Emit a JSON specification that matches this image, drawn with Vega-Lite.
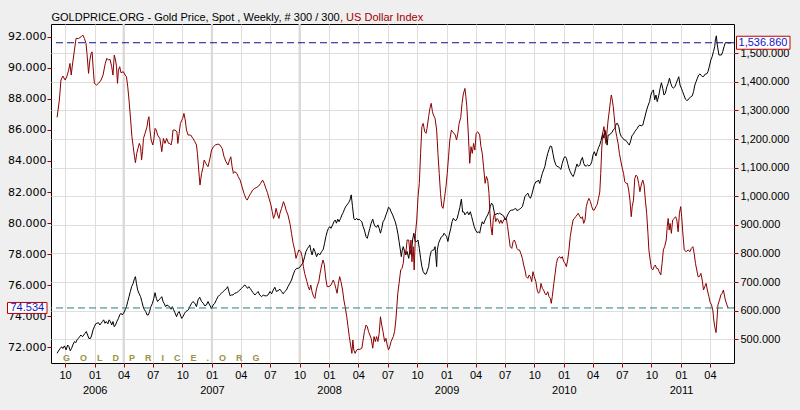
{
  "$schema": "https://vega.github.io/schema/vega-lite/v6.json",
  "width": 683,
  "height": 339,
  "autosize": "none",
  "padding": {"left": 51, "top": 24, "right": 66, "bottom": 47},
  "background": "#efefef",
  "config": {
    "view": {"fill": "#ffffff", "stroke": "#000000", "strokeWidth": 1},
    "axis": {
      "domain": false,
      "tickColor": "#a00000",
      "tickSize": 4,
      "labelColor": "#000000",
      "labelFont": "Liberation Sans",
      "labelFontSize": 11,
      "gridColor": "#e2dddd",
      "gridWidth": 1
    }
  },
  "datasets": {
    "gold": [
      {"date": "2005-09-06", "gold": 451}, {"date": "2005-09-10", "gold": 459}, {"date": "2005-09-16", "gold": 468}, {"date": "2005-09-20", "gold": 474},
      {"date": "2005-09-24", "gold": 468}, {"date": "2005-09-29", "gold": 477}, {"date": "2005-10-04", "gold": 463}, {"date": "2005-10-09", "gold": 480},
      {"date": "2005-10-13", "gold": 474}, {"date": "2005-10-17", "gold": 460}, {"date": "2005-10-21", "gold": 468}, {"date": "2005-10-25", "gold": 480},
      {"date": "2005-10-30", "gold": 492}, {"date": "2005-11-03", "gold": 488}, {"date": "2005-11-07", "gold": 498}, {"date": "2005-11-11", "gold": 503},
      {"date": "2005-11-15", "gold": 509}, {"date": "2005-11-19", "gold": 515}, {"date": "2005-11-24", "gold": 509}, {"date": "2005-11-28", "gold": 515},
      {"date": "2005-12-02", "gold": 521}, {"date": "2005-12-06", "gold": 527}, {"date": "2005-12-10", "gold": 515}, {"date": "2005-12-14", "gold": 503},
      {"date": "2005-12-19", "gold": 503}, {"date": "2005-12-23", "gold": 515}, {"date": "2005-12-27", "gold": 533}, {"date": "2005-12-31", "gold": 544},
      {"date": "2006-01-04", "gold": 554}, {"date": "2006-01-08", "gold": 556}, {"date": "2006-01-13", "gold": 558}, {"date": "2006-01-17", "gold": 550},
      {"date": "2006-01-21", "gold": 556}, {"date": "2006-01-25", "gold": 562}, {"date": "2006-01-29", "gold": 568}, {"date": "2006-02-02", "gold": 556},
      {"date": "2006-02-06", "gold": 562}, {"date": "2006-02-11", "gold": 554}, {"date": "2006-02-15", "gold": 568}, {"date": "2006-02-19", "gold": 562},
      {"date": "2006-02-23", "gold": 550}, {"date": "2006-02-27", "gold": 562}, {"date": "2006-03-03", "gold": 544}, {"date": "2006-03-07", "gold": 550},
      {"date": "2006-03-11", "gold": 562}, {"date": "2006-03-16", "gold": 573}, {"date": "2006-03-20", "gold": 585}, {"date": "2006-03-24", "gold": 591},
      {"date": "2006-03-28", "gold": 585}, {"date": "2006-04-01", "gold": 591}, {"date": "2006-04-06", "gold": 603}, {"date": "2006-04-10", "gold": 614},
      {"date": "2006-04-14", "gold": 632}, {"date": "2006-04-18", "gold": 649}, {"date": "2006-04-22", "gold": 667}, {"date": "2006-04-26", "gold": 684},
      {"date": "2006-05-01", "gold": 696}, {"date": "2006-05-05", "gold": 713}, {"date": "2006-05-08", "gold": 719}, {"date": "2006-05-11", "gold": 696},
      {"date": "2006-05-15", "gold": 672}, {"date": "2006-05-19", "gold": 661}, {"date": "2006-05-24", "gold": 649}, {"date": "2006-05-28", "gold": 632},
      {"date": "2006-06-01", "gold": 614}, {"date": "2006-06-05", "gold": 603}, {"date": "2006-06-09", "gold": 597}, {"date": "2006-06-13", "gold": 585},
      {"date": "2006-06-17", "gold": 585}, {"date": "2006-06-21", "gold": 597}, {"date": "2006-06-25", "gold": 614}, {"date": "2006-06-30", "gold": 626},
      {"date": "2006-07-04", "gold": 643}, {"date": "2006-07-08", "gold": 663}, {"date": "2006-07-12", "gold": 643}, {"date": "2006-07-16", "gold": 632},
      {"date": "2006-07-20", "gold": 638}, {"date": "2006-07-25", "gold": 643}, {"date": "2006-07-29", "gold": 649}, {"date": "2006-08-02", "gold": 632},
      {"date": "2006-08-06", "gold": 624}, {"date": "2006-08-10", "gold": 614}, {"date": "2006-08-14", "gold": 620}, {"date": "2006-08-19", "gold": 617},
      {"date": "2006-08-23", "gold": 612}, {"date": "2006-08-27", "gold": 605}, {"date": "2006-08-31", "gold": 614}, {"date": "2006-09-04", "gold": 603},
      {"date": "2006-09-08", "gold": 593}, {"date": "2006-09-13", "gold": 579}, {"date": "2006-09-17", "gold": 591}, {"date": "2006-09-21", "gold": 597},
      {"date": "2006-09-25", "gold": 585}, {"date": "2006-09-29", "gold": 573}, {"date": "2006-10-03", "gold": 579}, {"date": "2006-10-08", "gold": 591},
      {"date": "2006-10-12", "gold": 597}, {"date": "2006-10-16", "gold": 600}, {"date": "2006-10-20", "gold": 603}, {"date": "2006-10-24", "gold": 614},
      {"date": "2006-10-30", "gold": 626}, {"date": "2006-11-03", "gold": 632}, {"date": "2006-11-09", "gold": 626}, {"date": "2006-11-14", "gold": 614},
      {"date": "2006-11-19", "gold": 638}, {"date": "2006-11-24", "gold": 647}, {"date": "2006-11-30", "gold": 632}, {"date": "2006-12-05", "gold": 626},
      {"date": "2006-12-10", "gold": 617}, {"date": "2006-12-15", "gold": 620}, {"date": "2006-12-20", "gold": 632}, {"date": "2006-12-25", "gold": 620},
      {"date": "2006-12-31", "gold": 608}, {"date": "2007-01-05", "gold": 620}, {"date": "2007-01-10", "gold": 626}, {"date": "2007-01-15", "gold": 638},
      {"date": "2007-01-20", "gold": 649}, {"date": "2007-01-25", "gold": 655}, {"date": "2007-01-31", "gold": 661}, {"date": "2007-02-05", "gold": 667},
      {"date": "2007-02-10", "gold": 672}, {"date": "2007-02-16", "gold": 678}, {"date": "2007-02-19", "gold": 684}, {"date": "2007-02-23", "gold": 667},
      {"date": "2007-02-27", "gold": 652}, {"date": "2007-03-03", "gold": 655}, {"date": "2007-03-08", "gold": 655}, {"date": "2007-03-13", "gold": 661},
      {"date": "2007-03-19", "gold": 663}, {"date": "2007-03-24", "gold": 667}, {"date": "2007-03-29", "gold": 672}, {"date": "2007-04-03", "gold": 678},
      {"date": "2007-04-08", "gold": 684}, {"date": "2007-04-14", "gold": 690}, {"date": "2007-04-18", "gold": 684}, {"date": "2007-04-22", "gold": 678},
      {"date": "2007-04-26", "gold": 684}, {"date": "2007-04-30", "gold": 678}, {"date": "2007-05-04", "gold": 672}, {"date": "2007-05-09", "gold": 663},
      {"date": "2007-05-15", "gold": 655}, {"date": "2007-05-20", "gold": 661}, {"date": "2007-05-25", "gold": 667}, {"date": "2007-05-30", "gold": 655},
      {"date": "2007-06-05", "gold": 649}, {"date": "2007-06-10", "gold": 655}, {"date": "2007-06-15", "gold": 652}, {"date": "2007-06-20", "gold": 652},
      {"date": "2007-06-25", "gold": 655}, {"date": "2007-07-01", "gold": 667}, {"date": "2007-07-06", "gold": 659}, {"date": "2007-07-11", "gold": 672},
      {"date": "2007-07-16", "gold": 682}, {"date": "2007-07-21", "gold": 667}, {"date": "2007-07-26", "gold": 670}, {"date": "2007-08-01", "gold": 675},
      {"date": "2007-08-06", "gold": 667}, {"date": "2007-08-11", "gold": 659}, {"date": "2007-08-16", "gold": 667}, {"date": "2007-08-21", "gold": 672},
      {"date": "2007-08-26", "gold": 684}, {"date": "2007-09-01", "gold": 696}, {"date": "2007-09-06", "gold": 707}, {"date": "2007-09-11", "gold": 725},
      {"date": "2007-09-16", "gold": 740}, {"date": "2007-09-22", "gold": 748}, {"date": "2007-09-27", "gold": 748}, {"date": "2007-10-02", "gold": 752},
      {"date": "2007-10-07", "gold": 760}, {"date": "2007-10-12", "gold": 768}, {"date": "2007-10-17", "gold": 789}, {"date": "2007-10-21", "gold": 807},
      {"date": "2007-10-26", "gold": 818}, {"date": "2007-10-30", "gold": 824}, {"date": "2007-11-02", "gold": 830}, {"date": "2007-11-05", "gold": 812},
      {"date": "2007-11-09", "gold": 795}, {"date": "2007-11-14", "gold": 818}, {"date": "2007-11-18", "gold": 807}, {"date": "2007-11-23", "gold": 789},
      {"date": "2007-11-28", "gold": 801}, {"date": "2007-12-03", "gold": 795}, {"date": "2007-12-09", "gold": 807}, {"date": "2007-12-14", "gold": 815},
      {"date": "2007-12-18", "gold": 836}, {"date": "2007-12-22", "gold": 859}, {"date": "2007-12-26", "gold": 876}, {"date": "2007-12-30", "gold": 888},
      {"date": "2008-01-03", "gold": 894}, {"date": "2008-01-07", "gold": 888}, {"date": "2008-01-12", "gold": 900}, {"date": "2008-01-16", "gold": 911},
      {"date": "2008-01-20", "gold": 917}, {"date": "2008-01-24", "gold": 906}, {"date": "2008-01-28", "gold": 920}, {"date": "2008-02-01", "gold": 911},
      {"date": "2008-02-06", "gold": 923}, {"date": "2008-02-10", "gold": 935}, {"date": "2008-02-14", "gold": 943}, {"date": "2008-02-18", "gold": 955},
      {"date": "2008-02-22", "gold": 964}, {"date": "2008-02-26", "gold": 970}, {"date": "2008-03-02", "gold": 978}, {"date": "2008-03-06", "gold": 987},
      {"date": "2008-03-10", "gold": 1005}, {"date": "2008-03-14", "gold": 964}, {"date": "2008-03-18", "gold": 923}, {"date": "2008-03-22", "gold": 917},
      {"date": "2008-03-27", "gold": 923}, {"date": "2008-03-31", "gold": 917}, {"date": "2008-04-04", "gold": 920}, {"date": "2008-04-08", "gold": 915},
      {"date": "2008-04-12", "gold": 911}, {"date": "2008-04-16", "gold": 894}, {"date": "2008-04-20", "gold": 882}, {"date": "2008-04-25", "gold": 859},
      {"date": "2008-04-29", "gold": 853}, {"date": "2008-05-03", "gold": 871}, {"date": "2008-05-07", "gold": 888}, {"date": "2008-05-11", "gold": 906},
      {"date": "2008-05-16", "gold": 920}, {"date": "2008-05-20", "gold": 903}, {"date": "2008-05-24", "gold": 894}, {"date": "2008-05-28", "gold": 892},
      {"date": "2008-06-01", "gold": 900}, {"date": "2008-06-05", "gold": 888}, {"date": "2008-06-09", "gold": 871}, {"date": "2008-06-13", "gold": 888},
      {"date": "2008-06-17", "gold": 911}, {"date": "2008-06-22", "gold": 920}, {"date": "2008-06-26", "gold": 935}, {"date": "2008-06-30", "gold": 946},
      {"date": "2008-07-04", "gold": 962}, {"date": "2008-07-08", "gold": 958}, {"date": "2008-07-12", "gold": 946}, {"date": "2008-07-17", "gold": 935},
      {"date": "2008-07-21", "gold": 923}, {"date": "2008-07-25", "gold": 911}, {"date": "2008-07-29", "gold": 894}, {"date": "2008-08-02", "gold": 871},
      {"date": "2008-08-06", "gold": 842}, {"date": "2008-08-10", "gold": 812}, {"date": "2008-08-13", "gold": 789}, {"date": "2008-08-16", "gold": 812},
      {"date": "2008-08-19", "gold": 824}, {"date": "2008-08-23", "gold": 807}, {"date": "2008-08-27", "gold": 795}, {"date": "2008-08-31", "gold": 807},
      {"date": "2008-09-05", "gold": 783}, {"date": "2008-09-09", "gold": 812}, {"date": "2008-09-13", "gold": 795}, {"date": "2008-09-17", "gold": 847},
      {"date": "2008-09-21", "gold": 871}, {"date": "2008-09-25", "gold": 842}, {"date": "2008-09-30", "gold": 842}, {"date": "2008-10-04", "gold": 847},
      {"date": "2008-10-08", "gold": 818}, {"date": "2008-10-12", "gold": 783}, {"date": "2008-10-16", "gold": 754}, {"date": "2008-10-20", "gold": 737},
      {"date": "2008-10-25", "gold": 728}, {"date": "2008-10-29", "gold": 728}, {"date": "2008-11-01", "gold": 737}, {"date": "2008-11-06", "gold": 754},
      {"date": "2008-11-10", "gold": 789}, {"date": "2008-11-14", "gold": 807}, {"date": "2008-11-18", "gold": 812}, {"date": "2008-11-22", "gold": 812},
      {"date": "2008-11-26", "gold": 824}, {"date": "2008-12-01", "gold": 754}, {"date": "2008-12-03", "gold": 812}, {"date": "2008-12-07", "gold": 836},
      {"date": "2008-12-11", "gold": 847}, {"date": "2008-12-15", "gold": 857}, {"date": "2008-12-20", "gold": 861}, {"date": "2008-12-24", "gold": 871},
      {"date": "2008-12-28", "gold": 865}, {"date": "2009-01-01", "gold": 859}, {"date": "2009-01-05", "gold": 842}, {"date": "2009-01-09", "gold": 865},
      {"date": "2009-01-14", "gold": 888}, {"date": "2009-01-18", "gold": 911}, {"date": "2009-01-22", "gold": 923}, {"date": "2009-01-26", "gold": 917},
      {"date": "2009-01-30", "gold": 915}, {"date": "2009-02-03", "gold": 923}, {"date": "2009-02-07", "gold": 941}, {"date": "2009-02-11", "gold": 960},
      {"date": "2009-02-16", "gold": 990}, {"date": "2009-02-20", "gold": 945}, {"date": "2009-02-24", "gold": 945}, {"date": "2009-02-27", "gold": 935},
      {"date": "2009-03-03", "gold": 941}, {"date": "2009-03-07", "gold": 946}, {"date": "2009-03-11", "gold": 935}, {"date": "2009-03-16", "gold": 946},
      {"date": "2009-03-20", "gold": 929}, {"date": "2009-03-24", "gold": 911}, {"date": "2009-03-28", "gold": 894}, {"date": "2009-04-01", "gold": 882},
      {"date": "2009-04-06", "gold": 873}, {"date": "2009-04-10", "gold": 876}, {"date": "2009-04-14", "gold": 871}, {"date": "2009-04-18", "gold": 894},
      {"date": "2009-04-22", "gold": 911}, {"date": "2009-04-26", "gold": 903}, {"date": "2009-05-01", "gold": 917}, {"date": "2009-05-05", "gold": 927},
      {"date": "2009-05-09", "gold": 935}, {"date": "2009-05-13", "gold": 946}, {"date": "2009-05-17", "gold": 964}, {"date": "2009-05-21", "gold": 976},
      {"date": "2009-05-25", "gold": 970}, {"date": "2009-05-30", "gold": 941}, {"date": "2009-06-03", "gold": 935}, {"date": "2009-06-07", "gold": 941},
      {"date": "2009-06-11", "gold": 938}, {"date": "2009-06-15", "gold": 941}, {"date": "2009-06-19", "gold": 938}, {"date": "2009-06-23", "gold": 935},
      {"date": "2009-06-28", "gold": 931}, {"date": "2009-07-02", "gold": 917}, {"date": "2009-07-06", "gold": 923}, {"date": "2009-07-10", "gold": 935},
      {"date": "2009-07-14", "gold": 943}, {"date": "2009-07-18", "gold": 950}, {"date": "2009-07-23", "gold": 952}, {"date": "2009-07-27", "gold": 952},
      {"date": "2009-07-31", "gold": 955}, {"date": "2009-08-04", "gold": 958}, {"date": "2009-08-08", "gold": 950}, {"date": "2009-08-12", "gold": 952},
      {"date": "2009-08-16", "gold": 955}, {"date": "2009-08-20", "gold": 958}, {"date": "2009-08-25", "gold": 964}, {"date": "2009-08-29", "gold": 981},
      {"date": "2009-09-02", "gold": 999}, {"date": "2009-09-06", "gold": 1005}, {"date": "2009-09-11", "gold": 1011}, {"date": "2009-09-15", "gold": 999},
      {"date": "2009-09-19", "gold": 993}, {"date": "2009-09-23", "gold": 1005}, {"date": "2009-09-27", "gold": 1022}, {"date": "2009-10-01", "gold": 1040},
      {"date": "2009-10-06", "gold": 1051}, {"date": "2009-10-10", "gold": 1051}, {"date": "2009-10-14", "gold": 1057}, {"date": "2009-10-18", "gold": 1045},
      {"date": "2009-10-22", "gold": 1063}, {"date": "2009-10-26", "gold": 1080}, {"date": "2009-10-30", "gold": 1092}, {"date": "2009-11-03", "gold": 1104},
      {"date": "2009-11-07", "gold": 1127}, {"date": "2009-11-12", "gold": 1150}, {"date": "2009-11-16", "gold": 1164}, {"date": "2009-11-20", "gold": 1176},
      {"date": "2009-11-24", "gold": 1174}, {"date": "2009-11-28", "gold": 1150}, {"date": "2009-12-02", "gold": 1127}, {"date": "2009-12-07", "gold": 1110},
      {"date": "2009-12-11", "gold": 1104}, {"date": "2009-12-15", "gold": 1104}, {"date": "2009-12-19", "gold": 1098}, {"date": "2009-12-23", "gold": 1094},
      {"date": "2009-12-27", "gold": 1115}, {"date": "2010-01-01", "gold": 1133}, {"date": "2010-01-05", "gold": 1139}, {"date": "2010-01-09", "gold": 1133},
      {"date": "2010-01-13", "gold": 1115}, {"date": "2010-01-17", "gold": 1098}, {"date": "2010-01-21", "gold": 1086}, {"date": "2010-01-26", "gold": 1075},
      {"date": "2010-01-30", "gold": 1069}, {"date": "2010-02-03", "gold": 1080}, {"date": "2010-02-07", "gold": 1098}, {"date": "2010-02-11", "gold": 1113},
      {"date": "2010-02-15", "gold": 1104}, {"date": "2010-02-20", "gold": 1110}, {"date": "2010-02-24", "gold": 1127}, {"date": "2010-02-28", "gold": 1136},
      {"date": "2010-03-04", "gold": 1115}, {"date": "2010-03-08", "gold": 1106}, {"date": "2010-03-12", "gold": 1106}, {"date": "2010-03-16", "gold": 1110},
      {"date": "2010-03-20", "gold": 1106}, {"date": "2010-03-25", "gold": 1110}, {"date": "2010-03-29", "gold": 1121}, {"date": "2010-04-02", "gold": 1145},
      {"date": "2010-04-06", "gold": 1156}, {"date": "2010-04-11", "gold": 1141}, {"date": "2010-04-15", "gold": 1156}, {"date": "2010-04-19", "gold": 1170},
      {"date": "2010-04-23", "gold": 1180}, {"date": "2010-04-27", "gold": 1195}, {"date": "2010-05-02", "gold": 1220}, {"date": "2010-05-06", "gold": 1203},
      {"date": "2010-05-09", "gold": 1232}, {"date": "2010-05-12", "gold": 1214}, {"date": "2010-05-16", "gold": 1179}, {"date": "2010-05-19", "gold": 1214},
      {"date": "2010-05-23", "gold": 1214}, {"date": "2010-05-27", "gold": 1220}, {"date": "2010-05-31", "gold": 1223}, {"date": "2010-06-04", "gold": 1232},
      {"date": "2010-06-09", "gold": 1238}, {"date": "2010-06-13", "gold": 1253}, {"date": "2010-06-17", "gold": 1255}, {"date": "2010-06-21", "gold": 1244},
      {"date": "2010-06-25", "gold": 1220}, {"date": "2010-06-29", "gold": 1209}, {"date": "2010-07-04", "gold": 1203}, {"date": "2010-07-08", "gold": 1197},
      {"date": "2010-07-12", "gold": 1197}, {"date": "2010-07-16", "gold": 1191}, {"date": "2010-07-20", "gold": 1185}, {"date": "2010-07-24", "gold": 1179},
      {"date": "2010-07-29", "gold": 1197}, {"date": "2010-08-01", "gold": 1211}, {"date": "2010-08-06", "gold": 1218}, {"date": "2010-08-10", "gold": 1226},
      {"date": "2010-08-14", "gold": 1232}, {"date": "2010-08-18", "gold": 1238}, {"date": "2010-08-22", "gold": 1246}, {"date": "2010-08-26", "gold": 1249},
      {"date": "2010-08-30", "gold": 1246}, {"date": "2010-09-04", "gold": 1249}, {"date": "2010-09-08", "gold": 1267}, {"date": "2010-09-12", "gold": 1284},
      {"date": "2010-09-16", "gold": 1302}, {"date": "2010-09-20", "gold": 1316}, {"date": "2010-09-25", "gold": 1331}, {"date": "2010-09-29", "gold": 1354},
      {"date": "2010-10-03", "gold": 1366}, {"date": "2010-10-07", "gold": 1372}, {"date": "2010-10-11", "gold": 1337}, {"date": "2010-10-15", "gold": 1354},
      {"date": "2010-10-19", "gold": 1331}, {"date": "2010-10-24", "gold": 1354}, {"date": "2010-10-28", "gold": 1378}, {"date": "2010-11-01", "gold": 1397},
      {"date": "2010-11-05", "gold": 1378}, {"date": "2010-11-09", "gold": 1354}, {"date": "2010-11-13", "gold": 1360}, {"date": "2010-11-18", "gold": 1383},
      {"date": "2010-11-22", "gold": 1395}, {"date": "2010-11-26", "gold": 1413}, {"date": "2010-11-30", "gold": 1395}, {"date": "2010-12-04", "gold": 1383},
      {"date": "2010-12-08", "gold": 1378}, {"date": "2010-12-13", "gold": 1383}, {"date": "2010-12-17", "gold": 1395}, {"date": "2010-12-21", "gold": 1407},
      {"date": "2010-12-25", "gold": 1418}, {"date": "2010-12-29", "gold": 1389}, {"date": "2011-01-02", "gold": 1378}, {"date": "2011-01-06", "gold": 1366},
      {"date": "2011-01-11", "gold": 1351}, {"date": "2011-01-15", "gold": 1339}, {"date": "2011-01-19", "gold": 1335}, {"date": "2011-01-23", "gold": 1337},
      {"date": "2011-01-27", "gold": 1343}, {"date": "2011-01-31", "gold": 1348}, {"date": "2011-02-05", "gold": 1351}, {"date": "2011-02-09", "gold": 1366},
      {"date": "2011-02-13", "gold": 1389}, {"date": "2011-02-17", "gold": 1401}, {"date": "2011-02-21", "gold": 1413}, {"date": "2011-02-25", "gold": 1424},
      {"date": "2011-03-01", "gold": 1428}, {"date": "2011-03-06", "gold": 1421}, {"date": "2011-03-10", "gold": 1418}, {"date": "2011-03-14", "gold": 1421},
      {"date": "2011-03-18", "gold": 1428}, {"date": "2011-03-22", "gold": 1428}, {"date": "2011-03-26", "gold": 1436}, {"date": "2011-03-30", "gold": 1453},
      {"date": "2011-04-04", "gold": 1477}, {"date": "2011-04-08", "gold": 1488}, {"date": "2011-04-12", "gold": 1506}, {"date": "2011-04-16", "gold": 1523},
      {"date": "2011-04-18", "gold": 1547}, {"date": "2011-04-21", "gold": 1561}, {"date": "2011-04-24", "gold": 1529}, {"date": "2011-04-29", "gold": 1494},
      {"date": "2011-05-03", "gold": 1494}, {"date": "2011-05-07", "gold": 1494}, {"date": "2011-05-11", "gold": 1506}, {"date": "2011-05-15", "gold": 1523},
      {"date": "2011-05-19", "gold": 1537}, {"date": "2011-05-25", "gold": 1537}, {"date": "2011-05-31", "gold": 1536}, {"date": "2011-06-06", "gold": 1536.86}
    ],
    "usd": [
      {"date": "2005-09-06", "usd": 86.81}, {"date": "2005-09-13", "usd": 87.92}, {"date": "2005-09-18", "usd": 89.21}, {"date": "2005-09-24", "usd": 89.47},
      {"date": "2005-10-01", "usd": 89.21}, {"date": "2005-10-06", "usd": 89.42}, {"date": "2005-10-12", "usd": 89.85}, {"date": "2005-10-16", "usd": 90.28},
      {"date": "2005-10-20", "usd": 89.53}, {"date": "2005-10-23", "usd": 90.07}, {"date": "2005-10-30", "usd": 91.14}, {"date": "2005-11-04", "usd": 91.89},
      {"date": "2005-11-12", "usd": 91.89}, {"date": "2005-11-20", "usd": 92.0}, {"date": "2005-11-25", "usd": 92.11}, {"date": "2005-11-30", "usd": 91.89},
      {"date": "2005-12-05", "usd": 91.57}, {"date": "2005-12-08", "usd": 90.93}, {"date": "2005-12-13", "usd": 89.64}, {"date": "2005-12-17", "usd": 90.5},
      {"date": "2005-12-21", "usd": 90.93}, {"date": "2005-12-24", "usd": 91.03}, {"date": "2005-12-27", "usd": 90.07}, {"date": "2005-12-31", "usd": 89.0},
      {"date": "2006-01-07", "usd": 88.89}, {"date": "2006-01-13", "usd": 89.0}, {"date": "2006-01-21", "usd": 89.21}, {"date": "2006-01-27", "usd": 89.53},
      {"date": "2006-02-03", "usd": 90.28}, {"date": "2006-02-08", "usd": 90.61}, {"date": "2006-02-13", "usd": 90.5}, {"date": "2006-02-18", "usd": 90.54},
      {"date": "2006-02-23", "usd": 90.07}, {"date": "2006-02-27", "usd": 89.53}, {"date": "2006-03-03", "usd": 90.82}, {"date": "2006-03-07", "usd": 90.5},
      {"date": "2006-03-10", "usd": 90.07}, {"date": "2006-03-13", "usd": 89.0}, {"date": "2006-03-16", "usd": 89.85}, {"date": "2006-03-20", "usd": 90.07},
      {"date": "2006-03-24", "usd": 89.68}, {"date": "2006-03-31", "usd": 89.75}, {"date": "2006-04-06", "usd": 89.53}, {"date": "2006-04-10", "usd": 89.42},
      {"date": "2006-04-14", "usd": 88.78}, {"date": "2006-04-18", "usd": 87.92}, {"date": "2006-04-23", "usd": 86.64}, {"date": "2006-04-27", "usd": 85.56},
      {"date": "2006-05-01", "usd": 84.92}, {"date": "2006-05-05", "usd": 84.27}, {"date": "2006-05-08", "usd": 83.89}, {"date": "2006-05-12", "usd": 84.49},
      {"date": "2006-05-16", "usd": 84.81}, {"date": "2006-05-20", "usd": 85.13}, {"date": "2006-05-24", "usd": 84.92}, {"date": "2006-05-27", "usd": 84.06},
      {"date": "2006-05-30", "usd": 84.6}, {"date": "2006-06-02", "usd": 85.45}, {"date": "2006-06-07", "usd": 85.78}, {"date": "2006-06-13", "usd": 86.21},
      {"date": "2006-06-16", "usd": 86.64}, {"date": "2006-06-19", "usd": 86.85}, {"date": "2006-06-22", "usd": 85.99}, {"date": "2006-06-26", "usd": 85.35},
      {"date": "2006-07-01", "usd": 85.03}, {"date": "2006-07-04", "usd": 85.35}, {"date": "2006-07-08", "usd": 86.1}, {"date": "2006-07-12", "usd": 85.99},
      {"date": "2006-07-16", "usd": 85.67}, {"date": "2006-07-23", "usd": 85.45}, {"date": "2006-07-29", "usd": 84.6}, {"date": "2006-08-03", "usd": 85.45},
      {"date": "2006-08-08", "usd": 85.13}, {"date": "2006-08-13", "usd": 85.45}, {"date": "2006-08-19", "usd": 85.13}, {"date": "2006-08-23", "usd": 85.13},
      {"date": "2006-08-27", "usd": 85.03}, {"date": "2006-08-30", "usd": 85.35}, {"date": "2006-09-02", "usd": 85.99}, {"date": "2006-09-08", "usd": 85.99},
      {"date": "2006-09-14", "usd": 85.88}, {"date": "2006-09-17", "usd": 85.13}, {"date": "2006-09-21", "usd": 85.78}, {"date": "2006-09-25", "usd": 86.42},
      {"date": "2006-10-02", "usd": 86.74}, {"date": "2006-10-06", "usd": 87.06}, {"date": "2006-10-10", "usd": 86.64}, {"date": "2006-10-14", "usd": 85.99},
      {"date": "2006-10-19", "usd": 85.67}, {"date": "2006-10-27", "usd": 85.67}, {"date": "2006-11-03", "usd": 85.45}, {"date": "2006-11-09", "usd": 85.24},
      {"date": "2006-11-14", "usd": 85.03}, {"date": "2006-11-17", "usd": 84.49}, {"date": "2006-11-21", "usd": 83.42}, {"date": "2006-11-25", "usd": 82.45},
      {"date": "2006-11-30", "usd": 83.2}, {"date": "2006-12-05", "usd": 83.63}, {"date": "2006-12-08", "usd": 84.06}, {"date": "2006-12-13", "usd": 83.85},
      {"date": "2006-12-20", "usd": 83.63}, {"date": "2006-12-26", "usd": 84.17}, {"date": "2006-12-31", "usd": 84.7}, {"date": "2007-01-06", "usd": 84.92},
      {"date": "2007-01-12", "usd": 85.03}, {"date": "2007-01-20", "usd": 85.09}, {"date": "2007-01-26", "usd": 85.03}, {"date": "2007-02-02", "usd": 84.81},
      {"date": "2007-02-08", "usd": 84.27}, {"date": "2007-02-14", "usd": 83.95}, {"date": "2007-02-20", "usd": 83.74}, {"date": "2007-02-25", "usd": 84.06},
      {"date": "2007-03-01", "usd": 84.27}, {"date": "2007-03-05", "usd": 83.63}, {"date": "2007-03-09", "usd": 83.2}, {"date": "2007-03-13", "usd": 83.31},
      {"date": "2007-03-20", "usd": 83.2}, {"date": "2007-03-24", "usd": 82.99}, {"date": "2007-03-30", "usd": 82.77}, {"date": "2007-04-05", "usd": 82.34},
      {"date": "2007-04-11", "usd": 81.91}, {"date": "2007-04-17", "usd": 81.59}, {"date": "2007-04-21", "usd": 81.48}, {"date": "2007-04-26", "usd": 81.7},
      {"date": "2007-05-02", "usd": 81.91}, {"date": "2007-05-08", "usd": 82.13}, {"date": "2007-05-15", "usd": 82.24}, {"date": "2007-05-21", "usd": 82.3},
      {"date": "2007-05-27", "usd": 82.39}, {"date": "2007-06-02", "usd": 82.56}, {"date": "2007-06-08", "usd": 82.77}, {"date": "2007-06-13", "usd": 82.56},
      {"date": "2007-06-18", "usd": 82.24}, {"date": "2007-06-23", "usd": 81.96}, {"date": "2007-06-28", "usd": 81.59}, {"date": "2007-07-04", "usd": 81.16},
      {"date": "2007-07-08", "usd": 80.73}, {"date": "2007-07-12", "usd": 80.3}, {"date": "2007-07-16", "usd": 80.52}, {"date": "2007-07-20", "usd": 80.95},
      {"date": "2007-07-25", "usd": 80.52}, {"date": "2007-07-29", "usd": 80.3}, {"date": "2007-08-01", "usd": 80.63}, {"date": "2007-08-06", "usd": 80.95},
      {"date": "2007-08-12", "usd": 81.38}, {"date": "2007-08-16", "usd": 81.16}, {"date": "2007-08-20", "usd": 80.84}, {"date": "2007-08-26", "usd": 80.52},
      {"date": "2007-09-02", "usd": 79.88}, {"date": "2007-09-06", "usd": 79.34}, {"date": "2007-09-11", "usd": 78.7}, {"date": "2007-09-16", "usd": 78.27},
      {"date": "2007-09-20", "usd": 77.73}, {"date": "2007-09-25", "usd": 78.05}, {"date": "2007-09-29", "usd": 78.27}, {"date": "2007-10-05", "usd": 78.16},
      {"date": "2007-10-09", "usd": 77.84}, {"date": "2007-10-13", "usd": 77.19}, {"date": "2007-10-17", "usd": 76.76}, {"date": "2007-10-24", "usd": 76.23},
      {"date": "2007-10-28", "usd": 75.91}, {"date": "2007-11-01", "usd": 75.69}, {"date": "2007-11-05", "usd": 76.01}, {"date": "2007-11-09", "usd": 75.58},
      {"date": "2007-11-14", "usd": 75.26}, {"date": "2007-11-18", "usd": 75.15}, {"date": "2007-11-22", "usd": 75.69}, {"date": "2007-11-26", "usd": 76.01},
      {"date": "2007-11-30", "usd": 76.23}, {"date": "2007-12-04", "usd": 76.76}, {"date": "2007-12-09", "usd": 77.3}, {"date": "2007-12-13", "usd": 77.62},
      {"date": "2007-12-17", "usd": 77.35}, {"date": "2007-12-22", "usd": 76.4}, {"date": "2007-12-26", "usd": 75.91}, {"date": "2008-01-01", "usd": 75.91},
      {"date": "2008-01-07", "usd": 76.01}, {"date": "2008-01-14", "usd": 76.33}, {"date": "2008-01-18", "usd": 76.12}, {"date": "2008-01-22", "usd": 75.8},
      {"date": "2008-01-26", "usd": 75.48}, {"date": "2008-01-30", "usd": 76.12}, {"date": "2008-02-03", "usd": 76.55}, {"date": "2008-02-07", "usd": 76.23},
      {"date": "2008-02-12", "usd": 75.69}, {"date": "2008-02-16", "usd": 75.05}, {"date": "2008-02-20", "usd": 74.62}, {"date": "2008-02-25", "usd": 73.97},
      {"date": "2008-02-29", "usd": 73.33}, {"date": "2008-03-04", "usd": 72.69}, {"date": "2008-03-08", "usd": 72.15}, {"date": "2008-03-12", "usd": 71.61},
      {"date": "2008-03-15", "usd": 72.47}, {"date": "2008-03-18", "usd": 71.83}, {"date": "2008-03-22", "usd": 71.61}, {"date": "2008-03-27", "usd": 71.83},
      {"date": "2008-03-31", "usd": 71.87}, {"date": "2008-04-06", "usd": 71.87}, {"date": "2008-04-12", "usd": 71.94}, {"date": "2008-04-16", "usd": 72.47},
      {"date": "2008-04-20", "usd": 73.01}, {"date": "2008-04-25", "usd": 73.43}, {"date": "2008-04-29", "usd": 73.33}, {"date": "2008-05-03", "usd": 73.01},
      {"date": "2008-05-07", "usd": 72.79}, {"date": "2008-05-11", "usd": 72.58}, {"date": "2008-05-16", "usd": 71.94}, {"date": "2008-05-20", "usd": 72.69},
      {"date": "2008-05-24", "usd": 72.37}, {"date": "2008-05-28", "usd": 72.69}, {"date": "2008-06-01", "usd": 72.37}, {"date": "2008-06-05", "usd": 72.9},
      {"date": "2008-06-09", "usd": 73.97}, {"date": "2008-06-13", "usd": 73.43}, {"date": "2008-06-17", "usd": 73.01}, {"date": "2008-06-22", "usd": 72.37},
      {"date": "2008-06-26", "usd": 72.58}, {"date": "2008-06-30", "usd": 72.15}, {"date": "2008-07-04", "usd": 71.83}, {"date": "2008-07-08", "usd": 72.04},
      {"date": "2008-07-12", "usd": 72.37}, {"date": "2008-07-19", "usd": 72.69}, {"date": "2008-07-23", "usd": 73.01}, {"date": "2008-07-27", "usd": 73.76},
      {"date": "2008-07-30", "usd": 74.62}, {"date": "2008-08-02", "usd": 75.48}, {"date": "2008-08-06", "usd": 76.12}, {"date": "2008-08-11", "usd": 76.98},
      {"date": "2008-08-15", "usd": 77.08}, {"date": "2008-08-19", "usd": 77.41}, {"date": "2008-08-23", "usd": 78.27}, {"date": "2008-08-27", "usd": 78.05},
      {"date": "2008-08-31", "usd": 78.91}, {"date": "2008-09-05", "usd": 78.91}, {"date": "2008-09-09", "usd": 78.05}, {"date": "2008-09-12", "usd": 78.91},
      {"date": "2008-09-15", "usd": 77.51}, {"date": "2008-09-19", "usd": 78.48}, {"date": "2008-09-22", "usd": 76.98}, {"date": "2008-09-26", "usd": 79.34},
      {"date": "2008-09-30", "usd": 80.2}, {"date": "2008-10-04", "usd": 81.7}, {"date": "2008-10-08", "usd": 82.56}, {"date": "2008-10-12", "usd": 84.49},
      {"date": "2008-10-16", "usd": 86.21}, {"date": "2008-10-20", "usd": 86.42}, {"date": "2008-10-25", "usd": 85.88}, {"date": "2008-10-29", "usd": 85.78},
      {"date": "2008-11-01", "usd": 86.1}, {"date": "2008-11-06", "usd": 86.85}, {"date": "2008-11-10", "usd": 87.39}, {"date": "2008-11-14", "usd": 87.71},
      {"date": "2008-11-18", "usd": 87.17}, {"date": "2008-11-21", "usd": 86.96}, {"date": "2008-11-26", "usd": 86.74}, {"date": "2008-12-01", "usd": 85.99},
      {"date": "2008-12-05", "usd": 84.49}, {"date": "2008-12-09", "usd": 83.2}, {"date": "2008-12-13", "usd": 81.91}, {"date": "2008-12-17", "usd": 81.06},
      {"date": "2008-12-21", "usd": 80.95}, {"date": "2008-12-26", "usd": 81.7}, {"date": "2008-12-30", "usd": 82.34}, {"date": "2009-01-03", "usd": 83.2},
      {"date": "2009-01-07", "usd": 84.27}, {"date": "2009-01-11", "usd": 85.35}, {"date": "2009-01-16", "usd": 85.99}, {"date": "2009-01-20", "usd": 85.88},
      {"date": "2009-01-24", "usd": 85.78}, {"date": "2009-01-28", "usd": 85.67}, {"date": "2009-02-01", "usd": 85.35}, {"date": "2009-02-05", "usd": 85.78},
      {"date": "2009-02-09", "usd": 86.42}, {"date": "2009-02-14", "usd": 86.8}, {"date": "2009-02-18", "usd": 87.7}, {"date": "2009-02-22", "usd": 88.3},
      {"date": "2009-02-27", "usd": 88.67}, {"date": "2009-03-02", "usd": 88.14}, {"date": "2009-03-05", "usd": 87.49}, {"date": "2009-03-09", "usd": 85.99},
      {"date": "2009-03-14", "usd": 83.85}, {"date": "2009-03-18", "usd": 84.92}, {"date": "2009-03-22", "usd": 84.49}, {"date": "2009-03-26", "usd": 85.13},
      {"date": "2009-03-30", "usd": 84.7}, {"date": "2009-04-03", "usd": 85.78}, {"date": "2009-04-08", "usd": 85.88}, {"date": "2009-04-14", "usd": 85.67},
      {"date": "2009-04-18", "usd": 84.92}, {"date": "2009-04-22", "usd": 84.49}, {"date": "2009-04-26", "usd": 83.63}, {"date": "2009-05-01", "usd": 82.56},
      {"date": "2009-05-05", "usd": 83.0}, {"date": "2009-05-09", "usd": 82.77}, {"date": "2009-05-13", "usd": 81.91}, {"date": "2009-05-16", "usd": 80.63},
      {"date": "2009-05-19", "usd": 79.77}, {"date": "2009-05-23", "usd": 79.23}, {"date": "2009-05-26", "usd": 80.2}, {"date": "2009-05-30", "usd": 80.63},
      {"date": "2009-06-03", "usd": 80.09}, {"date": "2009-06-07", "usd": 80.3}, {"date": "2009-06-11", "usd": 80.2}, {"date": "2009-06-15", "usd": 79.98},
      {"date": "2009-06-19", "usd": 80.2}, {"date": "2009-06-23", "usd": 79.98}, {"date": "2009-06-28", "usd": 80.2}, {"date": "2009-07-02", "usd": 80.3},
      {"date": "2009-07-06", "usd": 80.3}, {"date": "2009-07-10", "usd": 79.77}, {"date": "2009-07-14", "usd": 79.12}, {"date": "2009-07-18", "usd": 78.48},
      {"date": "2009-07-23", "usd": 78.37}, {"date": "2009-07-27", "usd": 78.8}, {"date": "2009-07-31", "usd": 78.91}, {"date": "2009-08-04", "usd": 78.7},
      {"date": "2009-08-08", "usd": 78.37}, {"date": "2009-08-12", "usd": 78.27}, {"date": "2009-08-16", "usd": 78.27}, {"date": "2009-08-20", "usd": 78.05},
      {"date": "2009-08-25", "usd": 77.73}, {"date": "2009-08-29", "usd": 77.3}, {"date": "2009-09-02", "usd": 76.98}, {"date": "2009-09-06", "usd": 76.55},
      {"date": "2009-09-11", "usd": 76.44}, {"date": "2009-09-15", "usd": 76.66}, {"date": "2009-09-19", "usd": 76.55}, {"date": "2009-09-23", "usd": 76.23},
      {"date": "2009-09-27", "usd": 76.87}, {"date": "2009-10-01", "usd": 76.55}, {"date": "2009-10-06", "usd": 76.23}, {"date": "2009-10-10", "usd": 75.69},
      {"date": "2009-10-14", "usd": 75.48}, {"date": "2009-10-18", "usd": 75.58}, {"date": "2009-10-22", "usd": 76.12}, {"date": "2009-10-26", "usd": 75.8},
      {"date": "2009-10-30", "usd": 75.69}, {"date": "2009-11-03", "usd": 75.48}, {"date": "2009-11-07", "usd": 75.37}, {"date": "2009-11-12", "usd": 75.58},
      {"date": "2009-11-16", "usd": 75.26}, {"date": "2009-11-20", "usd": 75.15}, {"date": "2009-11-23", "usd": 74.83}, {"date": "2009-11-26", "usd": 75.26},
      {"date": "2009-12-01", "usd": 76.12}, {"date": "2009-12-05", "usd": 76.76}, {"date": "2009-12-09", "usd": 77.41}, {"date": "2009-12-13", "usd": 77.73},
      {"date": "2009-12-19", "usd": 77.84}, {"date": "2009-12-23", "usd": 77.73}, {"date": "2009-12-27", "usd": 77.84}, {"date": "2010-01-01", "usd": 77.51},
      {"date": "2010-01-05", "usd": 77.41}, {"date": "2010-01-09", "usd": 77.19}, {"date": "2010-01-13", "usd": 77.62}, {"date": "2010-01-17", "usd": 78.27},
      {"date": "2010-01-21", "usd": 79.12}, {"date": "2010-01-26", "usd": 79.77}, {"date": "2010-01-30", "usd": 80.2}, {"date": "2010-02-03", "usd": 80.3},
      {"date": "2010-02-07", "usd": 80.41}, {"date": "2010-02-11", "usd": 80.52}, {"date": "2010-02-15", "usd": 80.63}, {"date": "2010-02-20", "usd": 80.41},
      {"date": "2010-02-24", "usd": 80.3}, {"date": "2010-02-28", "usd": 80.41}, {"date": "2010-03-04", "usd": 79.98}, {"date": "2010-03-08", "usd": 80.2},
      {"date": "2010-03-12", "usd": 81.06}, {"date": "2010-03-16", "usd": 81.38}, {"date": "2010-03-20", "usd": 81.59}, {"date": "2010-03-25", "usd": 81.38},
      {"date": "2010-03-29", "usd": 81.06}, {"date": "2010-04-02", "usd": 80.84}, {"date": "2010-04-06", "usd": 80.84}, {"date": "2010-04-11", "usd": 81.06},
      {"date": "2010-04-15", "usd": 81.2}, {"date": "2010-04-19", "usd": 81.6}, {"date": "2010-04-23", "usd": 82.0}, {"date": "2010-04-26", "usd": 83.2},
      {"date": "2010-04-29", "usd": 84.7}, {"date": "2010-05-02", "usd": 85.78}, {"date": "2010-05-06", "usd": 86.21}, {"date": "2010-05-09", "usd": 85.67},
      {"date": "2010-05-12", "usd": 85.13}, {"date": "2010-05-16", "usd": 85.99}, {"date": "2010-05-19", "usd": 86.64}, {"date": "2010-05-23", "usd": 87.28},
      {"date": "2010-05-26", "usd": 87.82}, {"date": "2010-05-29", "usd": 88.25}, {"date": "2010-06-01", "usd": 87.92}, {"date": "2010-06-04", "usd": 87.49},
      {"date": "2010-06-07", "usd": 86.85}, {"date": "2010-06-11", "usd": 85.99}, {"date": "2010-06-15", "usd": 85.56}, {"date": "2010-06-19", "usd": 85.13},
      {"date": "2010-06-23", "usd": 84.49}, {"date": "2010-06-27", "usd": 84.06}, {"date": "2010-07-01", "usd": 83.63}, {"date": "2010-07-06", "usd": 83.2},
      {"date": "2010-07-10", "usd": 82.66}, {"date": "2010-07-14", "usd": 82.56}, {"date": "2010-07-18", "usd": 82.56}, {"date": "2010-07-22", "usd": 82.13},
      {"date": "2010-07-26", "usd": 81.48}, {"date": "2010-07-30", "usd": 80.41}, {"date": "2010-08-02", "usd": 81.06}, {"date": "2010-08-06", "usd": 81.48},
      {"date": "2010-08-10", "usd": 82.88}, {"date": "2010-08-14", "usd": 83.09}, {"date": "2010-08-18", "usd": 82.99}, {"date": "2010-08-22", "usd": 82.56},
      {"date": "2010-08-26", "usd": 82.02}, {"date": "2010-08-30", "usd": 82.45}, {"date": "2010-09-04", "usd": 82.77}, {"date": "2010-09-08", "usd": 82.45},
      {"date": "2010-09-12", "usd": 81.48}, {"date": "2010-09-16", "usd": 80.63}, {"date": "2010-09-20", "usd": 79.34}, {"date": "2010-09-23", "usd": 78.27},
      {"date": "2010-09-27", "usd": 77.62}, {"date": "2010-10-01", "usd": 77.08}, {"date": "2010-10-05", "usd": 76.98}, {"date": "2010-10-09", "usd": 77.19},
      {"date": "2010-10-13", "usd": 77.3}, {"date": "2010-10-17", "usd": 77.08}, {"date": "2010-10-21", "usd": 77.08}, {"date": "2010-10-25", "usd": 76.87},
      {"date": "2010-10-30", "usd": 76.66}, {"date": "2010-11-03", "usd": 77.41}, {"date": "2010-11-07", "usd": 78.27}, {"date": "2010-11-11", "usd": 78.48},
      {"date": "2010-11-16", "usd": 78.91}, {"date": "2010-11-19", "usd": 79.77}, {"date": "2010-11-22", "usd": 80.3}, {"date": "2010-11-25", "usd": 79.55},
      {"date": "2010-11-28", "usd": 79.98}, {"date": "2010-12-02", "usd": 79.34}, {"date": "2010-12-06", "usd": 80.2}, {"date": "2010-12-11", "usd": 80.3},
      {"date": "2010-12-15", "usd": 80.41}, {"date": "2010-12-19", "usd": 80.2}, {"date": "2010-12-23", "usd": 79.44}, {"date": "2010-12-27", "usd": 80.63},
      {"date": "2010-12-31", "usd": 81.06}, {"date": "2011-01-03", "usd": 80.41}, {"date": "2011-01-06", "usd": 79.55}, {"date": "2011-01-11", "usd": 78.27},
      {"date": "2011-01-17", "usd": 78.16}, {"date": "2011-01-23", "usd": 78.27}, {"date": "2011-01-29", "usd": 78.16}, {"date": "2011-02-02", "usd": 78.37},
      {"date": "2011-02-07", "usd": 78.48}, {"date": "2011-02-11", "usd": 78.05}, {"date": "2011-02-15", "usd": 77.41}, {"date": "2011-02-19", "usd": 76.98},
      {"date": "2011-02-23", "usd": 76.55}, {"date": "2011-02-27", "usd": 76.55}, {"date": "2011-03-04", "usd": 76.76}, {"date": "2011-03-08", "usd": 76.33},
      {"date": "2011-03-12", "usd": 75.69}, {"date": "2011-03-16", "usd": 75.91}, {"date": "2011-03-20", "usd": 76.12}, {"date": "2011-03-24", "usd": 75.69},
      {"date": "2011-03-29", "usd": 75.26}, {"date": "2011-04-01", "usd": 74.94}, {"date": "2011-04-06", "usd": 74.73}, {"date": "2011-04-10", "usd": 74.4},
      {"date": "2011-04-13", "usd": 73.76}, {"date": "2011-04-16", "usd": 73.33}, {"date": "2011-04-20", "usd": 72.95}, {"date": "2011-04-23", "usd": 73.76},
      {"date": "2011-04-26", "usd": 74.73}, {"date": "2011-05-01", "usd": 75.05}, {"date": "2011-05-05", "usd": 75.37}, {"date": "2011-05-09", "usd": 75.48},
      {"date": "2011-05-13", "usd": 75.69}, {"date": "2011-05-16", "usd": 75.37}, {"date": "2011-05-19", "usd": 75.05}, {"date": "2011-05-24", "usd": 74.73},
      {"date": "2011-05-28", "usd": 74.534}
    ]
  },
  "layer": [
    {
      "data": {"values": [{"date": "2006-04-01"}, {"date": "2007-01-01"}, {"date": "2007-10-01"}]},
      "mark": {"type": "rule", "color": "#dcd8d8", "strokeWidth": 2},
      "encoding": {
        "x": {
          "field": "date", "type": "temporal",
          "scale": {"type": "utc", "nice": false, "domain": [{"year": 2005, "month": 8, "date": 18, "utc": true}, {"year": 2011, "month": 6, "date": 15, "utc": true}]}
        }
      }
    },
    {
      "data": {"name": "gold"},
      "layer": [
        {
          "mark": {"type": "line", "color": "#000000", "strokeWidth": 1},
          "encoding": {
            "x": {
              "field": "date", "type": "temporal",
              "scale": {"type": "utc", "nice": false, "domain": [{"year": 2005, "month": 8, "date": 18, "utc": true}, {"year": 2011, "month": 6, "date": 15, "utc": true}]},
              "axis": {
                "title": null,
                "grid": true,
                "tickCount": {"interval": "month", "step": 3},
                "labelExpr": "utcmonth(datum.value) == 0 ? [utcFormat(datum.value, '%m'), utcFormat(datum.value, '%Y')] : utcFormat(datum.value, '%m')",
                "labelLineHeight": 15,
                "labelPadding": 2,
                "labelOverlap": false,
                "labelFlush": false,
                "labelBound": false
              }
            },
            "y": {
              "field": "gold", "type": "quantitative",
              "scale": {"domain": [417.1, 1602.4], "nice": false, "zero": false},
              "axis": {
                "orient": "right",
                "values": [500, 600, 700, 800, 900, 1000, 1100, 1200, 1300, 1400, 1500],
                "tickCount": 30,
                "format": ",.3f",
                "grid": true,
                "labelPadding": 2,
                "labelOverlap": false,
                "labelFlush": false,
                "labelBound": false,
                "title": "GOLDPRICE.ORG - Gold Price, Spot , Weekly, # 300 / 300",
                "titleAngle": 0,
                "titleAlign": "left",
                "titleBaseline": "alphabetic",
                "titleX": -683,
                "titleY": -4,
                "titleFont": "Liberation Sans",
                "titleFontSize": 11,
                "titleFontWeight": "normal",
                "titleColor": "#000000"
              }
            }
          }
        },
        {
          "data": {"values": [{}]},
          "mark": {"type": "rule", "color": "#12128f", "strokeWidth": 1, "strokeDash": [7, 4]},
          "encoding": {
            "y": {"datum": 1536.86, "type": "quantitative", "scale": {"domain": [417.1, 1602.4], "nice": false, "zero": false}}
          }
        },
        {
          "data": {"values": [{"last": "1,536.860"}]},
          "mark": {"type": "point", "shape": "M2.5,-6.5H56V6.5H2.5Z", "size": 4, "filled": true, "fill": "#ffffff", "stroke": "#c00000", "strokeWidth": 1, "opacity": 1},
          "encoding": {
            "x": {"datum": {"year": 2011, "month": 6, "date": 15, "utc": true}, "type": "temporal"},
            "y": {"datum": 1536.86, "type": "quantitative", "scale": {"domain": [417.1, 1602.4], "nice": false, "zero": false}}
          }
        },
        {
          "data": {"values": [{"last": "1,536.860"}]},
          "mark": {"type": "text", "dx": 29, "align": "center", "baseline": "middle", "font": "Liberation Sans", "fontSize": 11, "color": "#1414c8"},
          "encoding": {
            "x": {"datum": {"year": 2011, "month": 6, "date": 15, "utc": true}, "type": "temporal"},
            "y": {"datum": 1536.86, "type": "quantitative", "scale": {"domain": [417.1, 1602.4], "nice": false, "zero": false}},
            "text": {"field": "last"}
          }
        }
      ]
    },
    {
      "data": {"name": "usd"},
      "layer": [
        {
          "mark": {"type": "line", "color": "#8b0000", "strokeWidth": 1},
          "encoding": {
            "x": {
              "field": "date", "type": "temporal",
              "scale": {"type": "utc", "nice": false, "domain": [{"year": 2005, "month": 8, "date": 18, "utc": true}, {"year": 2011, "month": 6, "date": 15, "utc": true}]}
            },
            "y": {
              "field": "usd", "type": "quantitative",
              "scale": {"domain": [70.99, 92.82], "nice": false, "zero": false},
              "axis": {
                "orient": "left",
                "values": [72, 74, 76, 78, 80, 82, 84, 86, 88, 90, 92],
                "tickCount": 30,
                "format": ".3f",
                "grid": false,
                "labelFont": "DejaVu Sans",
                "labelFontSize": 11,
                "labelPadding": 1,
                "labelOverlap": false,
                "labelFlush": false,
                "labelBound": false,
                "title": ", US Dollar Index",
                "titleAngle": 0,
                "titleAlign": "left",
                "titleBaseline": "alphabetic",
                "titleX": 288.5,
                "titleY": -4,
                "titleFont": "Liberation Sans",
                "titleFontSize": 11,
                "titleFontWeight": "normal",
                "titleColor": "#a00000"
              }
            }
          }
        },
        {
          "data": {"values": [{}]},
          "mark": {"type": "rule", "color": "#1f7f7f", "strokeWidth": 1, "strokeDash": [7, 4]},
          "encoding": {
            "y": {"datum": 74.534, "type": "quantitative", "scale": {"domain": [70.99, 92.82], "nice": false, "zero": false}}
          }
        },
        {
          "data": {"values": [{"last": "74.534"}]},
          "mark": {"type": "point", "shape": "M-43.5,-5.5H-4V5.5H-43.5Z", "size": 4, "filled": true, "fill": "#ffffff", "stroke": "#c00000", "strokeWidth": 1, "opacity": 1},
          "encoding": {
            "x": {"datum": {"year": 2005, "month": 8, "date": 18, "utc": true}, "type": "temporal"},
            "y": {"datum": 74.534, "type": "quantitative", "scale": {"domain": [70.99, 92.82], "nice": false, "zero": false}}
          }
        },
        {
          "data": {"values": [{"last": "74.534"}]},
          "mark": {"type": "text", "dx": -23.7, "align": "center", "baseline": "middle", "font": "Liberation Sans", "fontSize": 11, "color": "#1414c8"},
          "encoding": {
            "x": {"datum": {"year": 2005, "month": 8, "date": 18, "utc": true}, "type": "temporal"},
            "y": {"datum": 74.534, "type": "quantitative", "scale": {"domain": [70.99, 92.82], "nice": false, "zero": false}},
            "text": {"field": "last"}
          }
        },
        {
          "data": {"values": [{"mark": "G\u00a0\u00a0\u00a0\u00a0O\u00a0\u00a0\u00a0\u00a0L\u00a0\u00a0\u00a0\u00a0D\u00a0\u00a0\u00a0\u00a0P\u00a0\u00a0\u00a0\u00a0R\u00a0\u00a0\u00a0\u00a0I\u00a0\u00a0\u00a0\u00a0C\u00a0\u00a0\u00a0\u00a0E\u00a0\u00a0\u00a0\u00a0.\u00a0\u00a0\u00a0\u00a0O\u00a0\u00a0\u00a0\u00a0R\u00a0\u00a0\u00a0\u00a0G"}]},
          "mark": {"type": "text", "align": "left", "baseline": "middle", "font": "Liberation Sans", "fontSize": 9, "fontWeight": "bold", "color": "#9a9246"},
          "encoding": {
            "x": {"datum": {"year": 2005, "month": 9, "date": 24, "utc": true}, "type": "temporal"},
            "y": {"datum": 71.28, "type": "quantitative", "scale": {"domain": [70.99, 92.82], "nice": false, "zero": false}},
            "text": {"field": "mark"}
          }
        }
      ]
    }
  ],
  "resolve": {"scale": {"y": "independent"}}
}
